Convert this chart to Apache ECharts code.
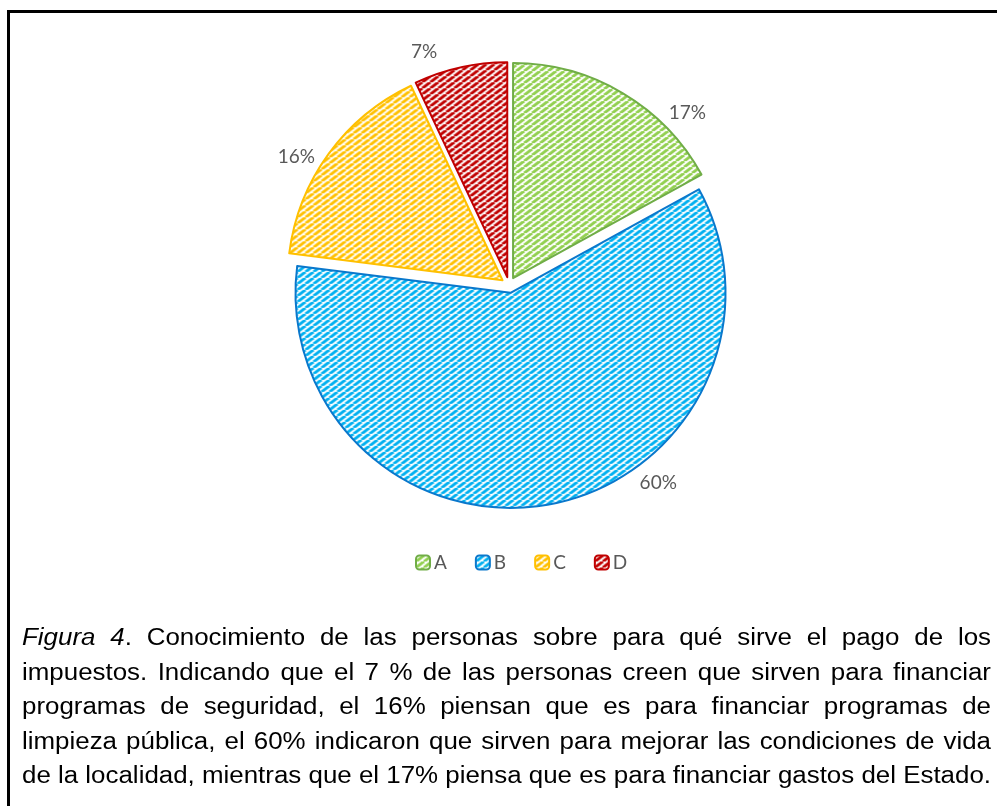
<!DOCTYPE html>
<html>
<head>
<meta charset="utf-8">
<script src="https://cdn.jsdelivr.net/npm/echarts@6/dist/echarts.min.js"></script>
<style>
  html, body { margin: 0; padding: 0; background: #fff; }
  #main { position: absolute; left: 0; top: 0; width: 997px; height: 806px; }
  #frame {
    position: absolute; left: 7px; top: 10px; width: 1000px; height: 820px;
    border-top: 3px solid #000; border-left: 3px solid #000; box-sizing: border-box;
  }
  #caption {
    position: absolute; left: 22px; top: 620px; width: 969px;
    font-family: "Liberation Sans", Arial, sans-serif; font-size: 23px; color: #000;
  }
  #caption .ln { height: 34.5px; line-height: 34.5px; white-space: nowrap; }
  #caption .ln span { display: inline-block; transform-origin: 0 50%; }
</style>
</head>
<body>
<div id="main"></div>
<div id="frame"></div>
<div id="caption"></div>
<script>
// 数据
const categories = ['A', 'B', 'C', 'D'];
const values = [17, 60, 16, 7];
const fillColors = ['#92D050', '#00B0F0', '#FFC000', '#C00000'];
const borderColors = ['#70AD47', '#0A78CC', '#FFC000', '#C00000'];
// 标签位置（角度，从正上方顺时针）
const labelAngles = [46, 143, 301, 340];

const captionLines = [
  '<i>Figura 4</i>. Conocimiento de las personas sobre para qué sirve el pago de los',
  'impuestos. Indicando que el 7 % de las personas creen que sirven para financiar',
  'programas de seguridad, el 16% piensan que es para financiar programas de',
  'limpieza pública, el 60% indicaron que sirven para mejorar las condiciones de vida',
  'de la localidad, mientras que el 17% piensa que es para financiar gastos del Estado.'
];

const CENTER = [509, 285];
const RADIUS = 215;
const LABEL_R = 248;

// 斜纹填充
function makePattern(color) {
  const w = 8, h = 6;
  const c = document.createElement('canvas');
  c.width = w; c.height = h;
  const ctx = c.getContext('2d');
  ctx.fillStyle = '#fff';
  ctx.fillRect(0, 0, w, h);
  ctx.strokeStyle = color;
  ctx.lineWidth = 3;
  for (let x0 = -w; x0 <= w; x0 += w) {
    ctx.beginPath();
    ctx.moveTo(x0, h);
    ctx.lineTo(x0 + w, 0);
    ctx.stroke();
  }
  return { image: c, repeat: 'repeat' };
}

const chart = echarts.init(document.getElementById('main'));

const pieData = categories.map((name, i) => {
  const style = {
    color: makePattern(fillColors[i]),
    borderColor: borderColors[i],
    borderWidth: 2
  };
  return {
    name,
    value: values[i],
    selected: true,
    itemStyle: style,
    select: { itemStyle: style }
  };
});

// 百分比标签
const total = values.reduce((a, b) => a + b, 0);
const labelTexts = values.map((v, i) => {
  const a = labelAngles[i] * Math.PI / 180;
  return {
    type: 'text',
    x: CENTER[0] + LABEL_R * Math.sin(a),
    y: CENTER[1] - LABEL_R * Math.cos(a),
    style: {
      text: Math.round(v / total * 100) + '%',
      fill: '#595959',
      fontSize: 19,
      fontFamily: 'Lato, sans-serif',
      align: 'center',
      verticalAlign: 'middle'
    }
  };
});

chart.setOption({
  animation: false,
  backgroundColor: '#fff',
  legend: {
    data: categories,
    left: 410,
    top: 548,
    itemWidth: 14,
    itemHeight: 14,
    itemGap: 28,
    selectedMode: false,
    textStyle: { color: '#595959', fontSize: 19, fontFamily: 'Lato, sans-serif', padding: [0, 0, 0, -1] }
  },
  graphic: labelTexts,
  series: [{
    type: 'pie',
    center: CENTER,
    radius: RADIUS,
    startAngle: 90,
    clockwise: true,
    selectedMode: 'multiple',
    selectedOffset: 8,
    emphasis: { disabled: true },
    label: { show: false },
    labelLine: { show: false },
    data: pieData
  }]
});

// 说明文字两端对齐
const cap = document.getElementById('caption');
const target = 969;
const spans = captionLines.map(html => {
  const ln = document.createElement('div');
  ln.className = 'ln';
  const sp = document.createElement('span');
  sp.innerHTML = html;
  ln.appendChild(sp);
  cap.appendChild(ln);
  return sp;
});
const widths = spans.map(sp => sp.getBoundingClientRect().width);
const sLast = target / widths[widths.length - 1];
spans.forEach((sp, i) => {
  const w = widths[i];
  const n = (sp.textContent.match(/ /g) || []).length;
  const s = Math.min(sLast, target / w);
  const ws = n ? (target / s - w) / n : 0;
  sp.style.wordSpacing = ws + 'px';
  sp.style.transform = 'scaleX(' + s + ')';
});
</script>
</body>
</html>
